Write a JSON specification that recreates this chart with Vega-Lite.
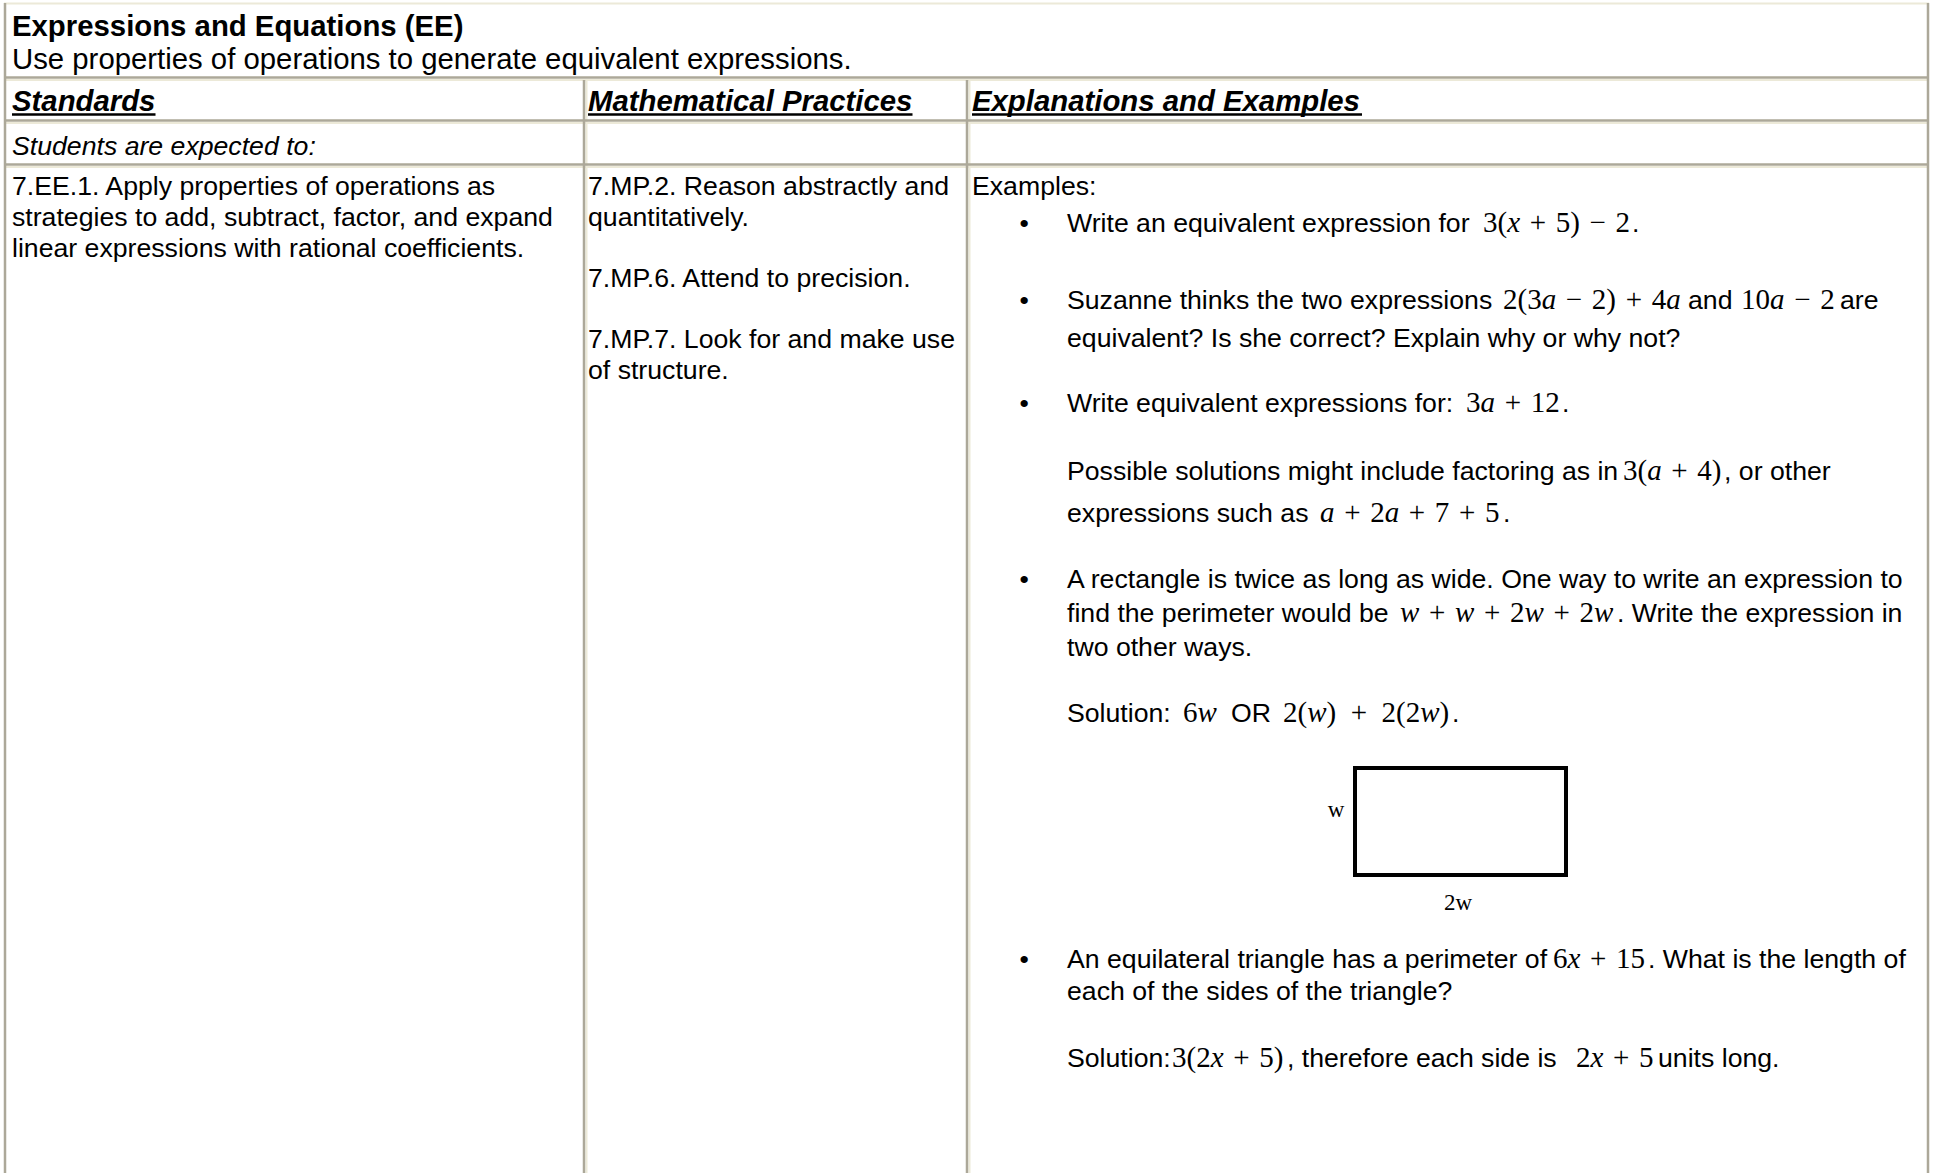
{
  "$schema": "https://vega.github.io/schema/vega-lite/v6.json",
  "width": 1935,
  "height": 1173,
  "padding": 0,
  "autosize": {"type": "none"},
  "background": "white",
  "config": {"view": {"stroke": null}},
  "datasets": {
    "grayLines": [
      {"x1": 4, "x2": 1929, "y1": 77.5, "y2": 77.5},
      {"x1": 4, "x2": 1929, "y1": 120.5, "y2": 120.5},
      {"x1": 4, "x2": 1929, "y1": 164.5, "y2": 164.5},
      {"x1": 5, "x2": 5, "y1": 3, "y2": 1173},
      {"x1": 1928, "x2": 1928, "y1": 3, "y2": 1173},
      {"x1": 584, "x2": 584, "y1": 80, "y2": 1173},
      {"x1": 967, "x2": 967, "y1": 80, "y2": 1173}
    ],
    "lightLines": [
      {"x1": 4, "x2": 1929, "y1": 3.5, "y2": 3.5},
      {"x1": 4, "x2": 1929, "y1": 80, "y2": 80},
      {"x1": 4, "x2": 1929, "y1": 123, "y2": 123},
      {"x1": 4, "x2": 1929, "y1": 167, "y2": 167},
      {"x1": 586.5, "x2": 586.5, "y1": 80, "y2": 1173},
      {"x1": 969.5, "x2": 969.5, "y1": 80, "y2": 1173}
    ],
    "underlines": [
      {"x1": 12, "x2": 155.5, "y1": 114.5, "y2": 114.5},
      {"x1": 588, "x2": 912.5, "y1": 114.5, "y2": 114.5},
      {"x1": 972, "x2": 1362, "y1": 114.5, "y2": 114.5}
    ],
    "boxes": [
      {"x1": 1355, "x2": 1566, "y1": 768, "y2": 875}
    ],
    "titleBold": [
      {"x": 12, "y": 36, "text": "Expressions and Equations (EE)"}
    ],
    "titleRegular": [
      {"x": 12, "y": 69, "text": "Use properties of operations to generate equivalent expressions."}
    ],
    "headers": [
      {"x": 12, "y": 111, "text": "Standards"},
      {"x": 588, "y": 111, "text": "Mathematical Practices"},
      {"x": 972, "y": 111, "text": "Explanations and Examples"}
    ],
    "italicBody": [
      {"x": 12, "y": 154.5, "text": "Students are expected to:"}
    ],
    "body": [
      {"x": 12, "y": 195, "text": "7.EE.1. Apply properties of operations as"},
      {"x": 12, "y": 226, "text": "strategies to add, subtract, factor, and expand"},
      {"x": 12, "y": 257, "text": "linear expressions with rational coefficients."},
      {"x": 588, "y": 195, "text": "7.MP.2. Reason abstractly and"},
      {"x": 588, "y": 226, "text": "quantitatively."},
      {"x": 588, "y": 287, "text": "7.MP.6. Attend to precision."},
      {"x": 588, "y": 348, "text": "7.MP.7. Look for and make use"},
      {"x": 588, "y": 379, "text": "of structure."},
      {"x": 972, "y": 195, "text": "Examples:"},
      {"x": 1019.5, "y": 232, "text": "•"},
      {"x": 1067, "y": 232, "text": "Write an equivalent expression for"},
      {"x": 1632, "y": 232, "text": "."},
      {"x": 1019.5, "y": 309, "text": "•"},
      {"x": 1067, "y": 309, "text": "Suzanne thinks the two expressions"},
      {"x": 1688, "y": 309, "text": "and"},
      {"x": 1840, "y": 309, "text": "are"},
      {"x": 1067, "y": 347, "text": "equivalent? Is she correct? Explain why or why not?"},
      {"x": 1019.5, "y": 412, "text": "•"},
      {"x": 1067, "y": 412, "text": "Write equivalent expressions for:"},
      {"x": 1562, "y": 412, "text": "."},
      {"x": 1067, "y": 480, "text": "Possible solutions might include factoring as in"},
      {"x": 1724, "y": 480, "text": ", or other"},
      {"x": 1067, "y": 522, "text": "expressions such as"},
      {"x": 1503, "y": 522, "text": "."},
      {"x": 1019.5, "y": 588, "text": "•"},
      {"x": 1067, "y": 588, "text": "A rectangle is twice as long as wide. One way to write an expression to"},
      {"x": 1067, "y": 622, "text": "find the perimeter would be"},
      {"x": 1617, "y": 622, "text": ". Write the expression in"},
      {"x": 1067, "y": 656, "text": "two other ways."},
      {"x": 1067, "y": 722, "text": "Solution:"},
      {"x": 1231, "y": 722, "text": "OR"},
      {"x": 1452, "y": 722, "text": "."},
      {"x": 1019.5, "y": 968, "text": "•"},
      {"x": 1067, "y": 968, "text": "An equilateral triangle has a perimeter of"},
      {"x": 1648, "y": 968, "text": ". What is the length of"},
      {"x": 1067, "y": 1000, "text": "each of the sides of the triangle?"},
      {"x": 1067, "y": 1067, "text": "Solution:"},
      {"x": 1287, "y": 1067, "text": ", therefore each side is"},
      {"x": 1658, "y": 1067, "text": "units long."}
    ],
    "mathUpright": [
      {"x": 1483, "y": 232, "text": "3("},
      {"x": 1529.69, "y": 232, "text": "+\u20045)\u2004\u2212\u20042"},
      {"x": 1503, "y": 309, "text": "2(3"},
      {"x": 1565.82, "y": 309, "text": "\u2212\u20042)\u2004+\u20044"},
      {"x": 1741, "y": 309, "text": "10"},
      {"x": 1794.16, "y": 309, "text": "\u2212\u20042"},
      {"x": 1466, "y": 412, "text": "3"},
      {"x": 1504.66, "y": 412, "text": "+\u200412"},
      {"x": 1623, "y": 480, "text": "3("},
      {"x": 1671.32, "y": 480, "text": "+\u20044)"},
      {"x": 1344.16, "y": 522, "text": "+\u20042"},
      {"x": 1408.83, "y": 522, "text": "+\u20047\u2004+\u20045"},
      {"x": 1429.0, "y": 622, "text": "+"},
      {"x": 1484.02, "y": 622, "text": "+\u20042"},
      {"x": 1553.53, "y": 622, "text": "+\u20042"},
      {"x": 1183, "y": 722, "text": "6"},
      {"x": 1283, "y": 722, "text": "2("},
      {"x": 1326.5, "y": 722, "text": ")\u2002+\u20022(2"},
      {"x": 1439.51, "y": 722, "text": ")"},
      {"x": 1553, "y": 968, "text": "6"},
      {"x": 1590.04, "y": 968, "text": "+\u200415"},
      {"x": 1172, "y": 1067, "text": "3(2"},
      {"x": 1233.19, "y": 1067, "text": "+\u20045)"},
      {"x": 1576, "y": 1067, "text": "2"},
      {"x": 1613.04, "y": 1067, "text": "+\u20045"}
    ],
    "mathItalic": [
      {"x": 1507.16, "y": 232, "text": "x"},
      {"x": 1541.66, "y": 309, "text": "a"},
      {"x": 1666.15, "y": 309, "text": "a"},
      {"x": 1770, "y": 309, "text": "a"},
      {"x": 1480.5, "y": 412, "text": "a"},
      {"x": 1647.16, "y": 480, "text": "a"},
      {"x": 1320, "y": 522, "text": "a"},
      {"x": 1384.67, "y": 522, "text": "a"},
      {"x": 1400, "y": 622, "text": "w"},
      {"x": 1455.01, "y": 622, "text": "w"},
      {"x": 1524.53, "y": 622, "text": "w"},
      {"x": 1594.04, "y": 622, "text": "w"},
      {"x": 1197.5, "y": 722, "text": "w"},
      {"x": 1307.16, "y": 722, "text": "w"},
      {"x": 1420.17, "y": 722, "text": "w"},
      {"x": 1567.5, "y": 968, "text": "x"},
      {"x": 1210.66, "y": 1067, "text": "x"},
      {"x": 1590.5, "y": 1067, "text": "x"}
    ],
    "figureLabels": [
      {"x": 1336, "y": 817, "text": "w"},
      {"x": 1458, "y": 910, "text": "2w"}
    ]
  },
  "encoding": {
    "x": {"field": "x1", "type": "quantitative", "scale": {"domain": [0, 1935], "nice": false, "zero": false}, "axis": null},
    "y": {"field": "y1", "type": "quantitative", "scale": {"domain": [0, 1173], "nice": false, "zero": false, "reverse": true}, "axis": null}
  },
  "layer": [
    {
      "data": {"name": "lightLines"},
      "mark": {"type": "rule", "stroke": "#ece9d8", "strokeWidth": 2},
      "encoding": {"x2": {"field": "x2"}, "y2": {"field": "y2"}}
    },
    {
      "data": {"name": "grayLines"},
      "mark": {"type": "rule", "stroke": "#aca899", "strokeWidth": 2.5},
      "encoding": {"x2": {"field": "x2"}, "y2": {"field": "y2"}}
    },
    {
      "data": {"name": "underlines"},
      "mark": {"type": "rule", "stroke": "#000000", "strokeWidth": 2.5},
      "encoding": {"x2": {"field": "x2"}, "y2": {"field": "y2"}}
    },
    {
      "data": {"name": "boxes"},
      "mark": {"type": "rect", "fill": "#ffffff", "stroke": "#000000", "strokeWidth": 4},
      "encoding": {"x2": {"field": "x2"}, "y2": {"field": "y2"}}
    },
    {
      "data": {"name": "titleBold"},
      "mark": {"type": "text", "align": "left", "baseline": "alphabetic", "font": "Liberation Sans", "fontSize": 29.33, "fontWeight": "bold", "color": "#000000"},
      "encoding": {"x": {"field": "x", "type": "quantitative"}, "y": {"field": "y", "type": "quantitative"}, "text": {"field": "text"}}
    },
    {
      "data": {"name": "titleRegular"},
      "mark": {"type": "text", "align": "left", "baseline": "alphabetic", "font": "Liberation Sans", "fontSize": 29.33, "color": "#000000"},
      "encoding": {"x": {"field": "x", "type": "quantitative"}, "y": {"field": "y", "type": "quantitative"}, "text": {"field": "text"}}
    },
    {
      "data": {"name": "headers"},
      "mark": {"type": "text", "align": "left", "baseline": "alphabetic", "font": "Liberation Sans", "fontSize": 29.33, "fontWeight": "bold", "fontStyle": "italic", "color": "#000000"},
      "encoding": {"x": {"field": "x", "type": "quantitative"}, "y": {"field": "y", "type": "quantitative"}, "text": {"field": "text"}}
    },
    {
      "data": {"name": "italicBody"},
      "mark": {"type": "text", "align": "left", "baseline": "alphabetic", "font": "Liberation Sans", "fontSize": 26.67, "fontStyle": "italic", "color": "#000000"},
      "encoding": {"x": {"field": "x", "type": "quantitative"}, "y": {"field": "y", "type": "quantitative"}, "text": {"field": "text"}}
    },
    {
      "data": {"name": "body"},
      "mark": {"type": "text", "align": "left", "baseline": "alphabetic", "font": "Liberation Sans", "fontSize": 26.67, "color": "#000000"},
      "encoding": {"x": {"field": "x", "type": "quantitative"}, "y": {"field": "y", "type": "quantitative"}, "text": {"field": "text"}}
    },
    {
      "data": {"name": "mathUpright"},
      "mark": {"type": "text", "align": "left", "baseline": "alphabetic", "font": "Liberation Serif", "fontSize": 29, "color": "#000000"},
      "encoding": {"x": {"field": "x", "type": "quantitative"}, "y": {"field": "y", "type": "quantitative"}, "text": {"field": "text"}}
    },
    {
      "data": {"name": "mathItalic"},
      "mark": {"type": "text", "align": "left", "baseline": "alphabetic", "font": "Liberation Serif", "fontSize": 29, "fontStyle": "italic", "color": "#000000"},
      "encoding": {"x": {"field": "x", "type": "quantitative"}, "y": {"field": "y", "type": "quantitative"}, "text": {"field": "text"}}
    },
    {
      "data": {"name": "figureLabels"},
      "mark": {"type": "text", "align": "center", "baseline": "alphabetic", "font": "Liberation Serif", "fontSize": 23, "color": "#000000"},
      "encoding": {"x": {"field": "x", "type": "quantitative"}, "y": {"field": "y", "type": "quantitative"}, "text": {"field": "text"}}
    }
  ]
}
